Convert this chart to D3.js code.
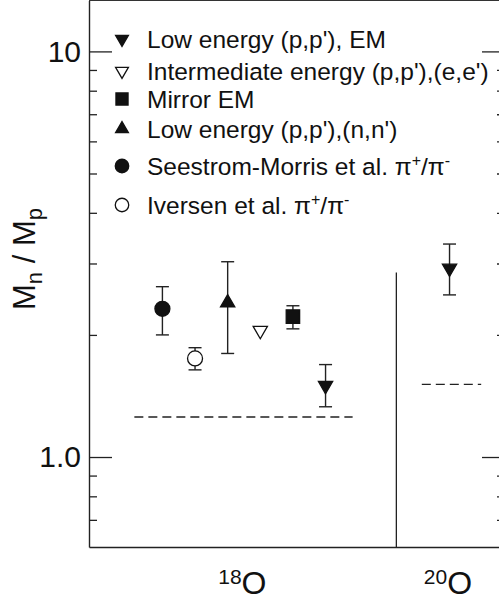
<!DOCTYPE html>
<html lang="en">
<head>
<meta charset="UTF-8">
<title>Mn / Mp oxygen isotopes</title>
<script src="https://cdnjs.cloudflare.com/ajax/libs/d3/7.8.5/d3.min.js"></script>
<style>
  body { margin: 0; background: #fff; }
  svg { display: block; font-family: "Liberation Sans", Arial, Helvetica, sans-serif; }
</style>
</head>
<body>
<script type="text/javascript">

// legend entries (series)
var seriesNames = [
  "Low energy (p,p'), EM",
  "Intermediate energy (p,p'),(e,e')",
  "Mirror EM",
  "Low energy (p,p'),(n,n')",
  "Seestrom-Morris et al. ",
  "Iversen et al. "
];
var seriesPion = [false, false, false, false, true, true];
var seriesSymbol = ["triDown", "triDown", "square", "triUp", "circle", "circle"];
var seriesFilled = [true, false, true, true, true, false];

// points: x slot, series index, Mn/Mp, error bar range
var pointSlot   = [0, 1, 2, 3, 4, 5, 8.8];
var pointSeries = [4, 5, 3, 1, 2, 0, 0];
var pointValue  = [2.32, 1.75, 2.40, 2.05, 2.22, 1.50, 2.92];
var errLow      = [2.00, 1.64, 1.80, null, 2.07, 1.33, 2.51];
var errHigh     = [2.63, 1.86, 3.03, null, 2.36, 1.69, 3.35];

// dashed N/Z reference lines
var refValue = [1.255, 1.51];
var refFrom  = [-0.86, 7.95];
var refTo    = [5.83, 9.77];

// x labels
var nucleusMass  = ["18", "20"];
var nucleusSlot  = [2.45, 8.75];
var dividerSlot  = 7.17;
var dividerTop   = 2.85;

var majorTicks = [1, 10];
var minorTicks = [0.7, 0.8, 0.9, 2, 3, 4, 5, 6, 7, 8, 9];

var W = 499, H = 600;
var plotL = 89, plotR = 505, plotT = 0.5, plotB = 547;

var x = d3.scaleLinear().domain([-2.25, 10.5]).range([plotL, plotR]);
var y = d3.scaleLog().domain([0.6, 13.35]).range([plotB, plotT]);

var svg = d3.select("body").append("svg")
  .attr("width", W).attr("height", H);

var ink = "#111";

// frame: top and bottom
svg.append("line").attr("x1", plotL).attr("x2", plotR).attr("y1", plotT).attr("y2", plotT)
  .attr("stroke", "#333").attr("stroke-width", 1.2);
svg.append("g").attr("transform", "translate(0," + plotB + ")")
  .call(d3.axisBottom(x).tickValues([]).tickSizeOuter(0))
  .select(".domain").attr("stroke", "#222").attr("stroke-width", 1.4);

// left axis
var gl = svg.append("g").attr("transform", "translate(" + plotL + ",0)");
gl.call(d3.axisLeft(y).tickValues(majorTicks).tickSize(-23).tickSizeOuter(0).tickPadding(8)
  .tickFormat(function(d) { return d === 10 ? "10" : "1.0"; }));
gl.select(".domain").attr("stroke", "#222").attr("stroke-width", 1.4);
gl.selectAll(".tick line").attr("stroke", "#222").attr("stroke-width", 1.3);
gl.selectAll(".tick text").attr("font-size", 30).attr("fill", ink)
  .style("font-family", "Liberation Sans, Arial, sans-serif");
svg.append("g").attr("transform", "translate(" + plotL + ",0)")
  .call(d3.axisLeft(y).tickValues(minorTicks).tickSize(-8).tickFormat(""))
  .call(function(g) { g.select(".domain").remove(); })
  .selectAll(".tick line").attr("stroke", "#222").attr("stroke-width", 1.3);

// right axis
var gr = svg.append("g").attr("transform", "translate(" + plotR + ",0)");
gr.call(d3.axisRight(y).tickValues(majorTicks).tickSize(-23).tickSizeOuter(0).tickFormat(""));
gr.selectAll(".tick line").attr("stroke", "#222").attr("stroke-width", 1.3);
svg.append("g").attr("transform", "translate(" + plotR + ",0)")
  .call(d3.axisRight(y).tickValues(minorTicks).tickSize(-8).tickFormat(""))
  .call(function(g) { g.select(".domain").remove(); })
  .selectAll(".tick line").attr("stroke", "#222").attr("stroke-width", 1.3);

// divider between nuclei
svg.append("line")
  .attr("x1", x(dividerSlot)).attr("x2", x(dividerSlot))
  .attr("y1", y(dividerTop)).attr("y2", plotB)
  .attr("stroke", "#222").attr("stroke-width", 1.3);

// y label
var ylab = svg.append("text")
  .attr("transform", "translate(35,259) rotate(-90)")
  .attr("text-anchor", "middle")
  .attr("font-size", 31).attr("fill", ink);
ylab.append("tspan").text("M");
ylab.append("tspan").attr("font-size", 22).attr("dy", 7).text("n");
ylab.append("tspan").attr("dy", -7).text(" / M");
ylab.append("tspan").attr("font-size", 22).attr("dy", 7).text("p");

// x labels
nucleusMass.forEach(function(m, i) {
  var t = svg.append("text")
    .attr("x", x(nucleusSlot[i])).attr("y", 594)
    .attr("text-anchor", "middle").attr("font-size", 32).attr("fill", ink);
  t.append("tspan").attr("font-size", 21).attr("dy", -10).text(m);
  t.append("tspan").attr("dy", 10).text("O");
});

// reference dashed lines
svg.selectAll(".ref").data(refValue).enter().append("line")
  .attr("class", "ref")
  .attr("x1", function(d, i) { return x(refFrom[i]); })
  .attr("x2", function(d, i) { return x(refTo[i]); })
  .attr("y1", function(d) { return y(d); })
  .attr("y2", function(d) { return y(d); })
  .attr("stroke", "#222").attr("stroke-width", 1.3)
  .attr("stroke-dasharray", "9,5");

function symbolPath(kind, big) {
  var k = big ? 1 : 0.9;
  if (kind === "circle") return d3.symbol(d3.symbolCircle, 176 * k * k)();
  if (kind === "square") return d3.symbol(d3.symbolSquare, 180 * k * k)();
  return d3.symbol(d3.symbolTriangle, 88 * k * k)();
}
function symbolTransform(kind, px, py) {
  var s = "translate(" + px + "," + py + ")";
  if (kind === "triDown") s += " rotate(180)";
  return s;
}

// error bars
var idx = d3.range(pointValue.length).filter(function(i) { return errLow[i] !== null; });
var eb = svg.selectAll(".err").data(idx).enter().append("g").attr("class", "err")
  .attr("stroke", "#222").attr("stroke-width", 1.4);
eb.append("line")
  .attr("x1", function(i) { return x(pointSlot[i]); })
  .attr("x2", function(i) { return x(pointSlot[i]); })
  .attr("y1", function(i) { return y(errLow[i]); })
  .attr("y2", function(i) { return y(errHigh[i]); });
[errLow, errHigh].forEach(function(arr) {
  eb.append("line")
    .attr("x1", function(i) { return x(pointSlot[i]) - 6.5; })
    .attr("x2", function(i) { return x(pointSlot[i]) + 6.5; })
    .attr("y1", function(i) { return y(arr[i]); })
    .attr("y2", function(i) { return y(arr[i]); });
});

// points
svg.selectAll(".pt").data(pointValue).enter().append("path")
  .attr("class", "pt")
  .attr("d", function(d, i) { return symbolPath(seriesSymbol[pointSeries[i]], true); })
  .attr("transform", function(d, i) {
    return symbolTransform(seriesSymbol[pointSeries[i]], x(pointSlot[i]), y(d));
  })
  .attr("fill", function(d, i) { return seriesFilled[pointSeries[i]] ? ink : "#fff"; })
  .attr("stroke", ink).attr("stroke-width", 1.3);

// legend
var legendY = [39, 71, 99, 129, 166, 205];
var lg = svg.selectAll(".leg").data(seriesNames).enter().append("g")
  .attr("class", "leg")
  .attr("transform", function(d, i) { return "translate(122," + legendY[i] + ")"; });
lg.append("path")
  .attr("d", function(d, i) { return symbolPath(seriesSymbol[i], false); })
  .attr("transform", function(d, i) { return symbolTransform(seriesSymbol[i], 0, 0); })
  .attr("fill", function(d, i) { return seriesFilled[i] ? ink : "#fff"; })
  .attr("stroke", ink).attr("stroke-width", 1.3);
var lt = lg.append("text")
  .attr("x", 25).attr("dy", "0.36em")
  .attr("font-size", 24.5).attr("fill", ink)
  .text(function(d) { return d; });
lt.each(function(d, i) {
  if (!seriesPion[i]) return;
  var t = d3.select(this);
  t.append("tspan").text("\u03c0");
  t.append("tspan").attr("font-size", 16).attr("dy", -9).text("+");
  t.append("tspan").attr("dy", 9).text("/\u03c0");
  t.append("tspan").attr("font-size", 16).attr("dy", -9).text("-");
});

</script>
</body>
</html>
